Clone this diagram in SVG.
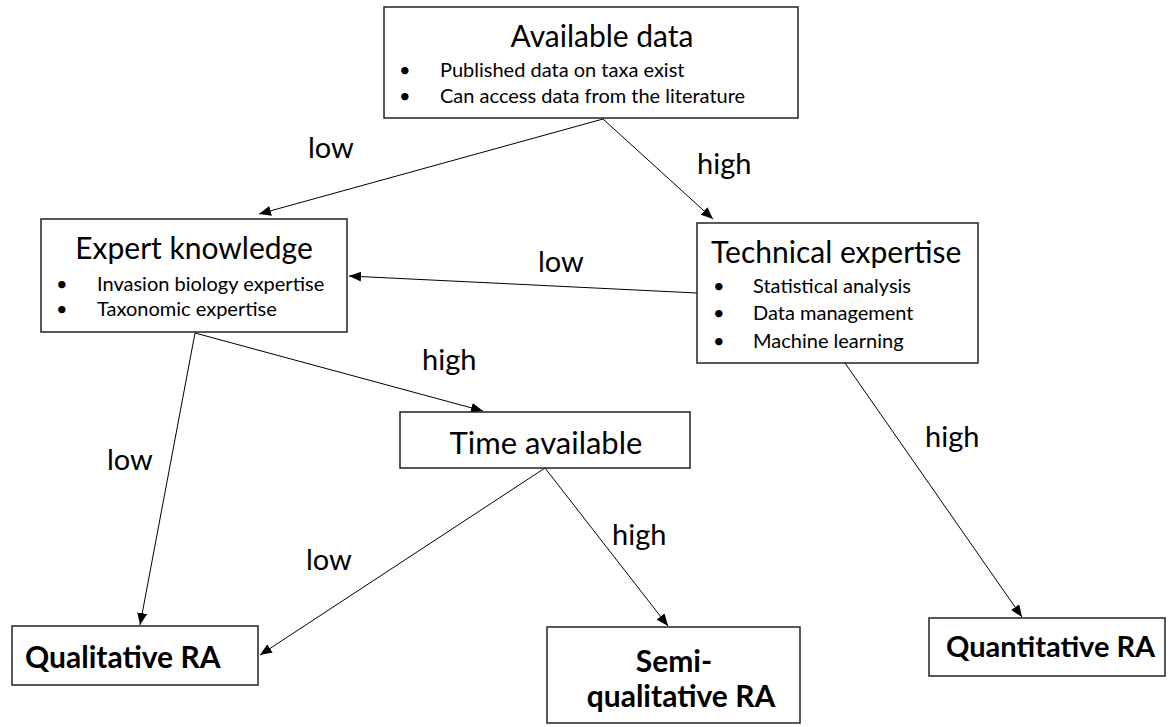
<svg xmlns="http://www.w3.org/2000/svg" width="1168" height="727" viewBox="0 0 1168 727">
  <style>
    .box { fill: #ffffff; stroke: #222222; stroke-width: 1.5; }
    .title { font-family: Lato, "Liberation Sans", sans-serif; font-size: 30px; fill: #000000; }
    .item { font-family: Lato, "Liberation Sans", sans-serif; font-size: 20px; fill: #000000; }
    .result { font-family: Lato, "Liberation Sans", sans-serif; font-size: 30px; font-weight: bold; fill: #000000; }
    .label { font-family: Lato, "Liberation Sans", sans-serif; font-size: 29px; fill: #000000; }
    .edge { fill: none; stroke: #000000; stroke-width: 1; marker-end: url(#arrow); }
  </style>
  <defs>
    <marker id="arrow" viewBox="0 0 12 10" refX="12" refY="5" markerWidth="12" markerHeight="10" markerUnits="userSpaceOnUse" orient="auto">
      <path d="M0,0 L12,5 L0,10 Z" fill="#000000"/>
    </marker>
  </defs>
  <rect width="1168" height="727" fill="#ffffff"/>

  <!-- connectors -->
  <g id="connectors">
    <line class="edge" x1="603" y1="119" x2="259" y2="214"/>
    <line class="edge" x1="603" y1="119" x2="713" y2="219"/>
    <line class="edge" x1="697" y1="293" x2="349" y2="276"/>
    <line class="edge" x1="195" y1="333" x2="483" y2="411"/>
    <line class="edge" x1="195" y1="333" x2="140" y2="625"/>
    <line class="edge" x1="545" y1="468" x2="260" y2="655"/>
    <line class="edge" x1="545" y1="468" x2="668" y2="626"/>
    <line class="edge" x1="845" y1="363" x2="1022" y2="617"/>
    <text class="label" x="308" y="158">low</text>
    <text class="label" x="697" y="174">high</text>
    <text class="label" x="538" y="272">low</text>
    <text class="label" x="422" y="370">high</text>
    <text class="label" x="107" y="470">low</text>
    <text class="label" x="306" y="570">low</text>
    <text class="label" x="612" y="545">high</text>
    <text class="label" x="925" y="447">high</text>
  </g>

  <g id="available-data">
    <rect class="box" x="384" y="7" width="414" height="111"/>
    <text class="title" x="602" y="47" text-anchor="middle">Available data</text>
    <text class="item" x="399" y="77">•</text>
    <text class="item" x="440" y="77">Published data on taxa exist</text>
    <text class="item" x="399" y="103">•</text>
    <text class="item" x="440" y="103">Can access data from the literature</text>
  </g>

  <g id="expert-knowledge">
    <rect class="box" x="41" y="219" width="306" height="113"/>
    <text class="title" x="194" y="259" text-anchor="middle">Expert knowledge</text>
    <text class="item" x="56" y="291">•</text>
    <text class="item" x="97" y="291">Invasion biology expertise</text>
    <text class="item" x="56" y="316">•</text>
    <text class="item" x="97" y="316">Taxonomic expertise</text>
  </g>

  <g id="technical-expertise">
    <rect class="box" x="697" y="223" width="281" height="140"/>
    <text class="title" x="711" y="263">Technical expertise</text>
    <text class="item" x="713" y="293">•</text>
    <text class="item" x="753" y="293">Statistical analysis</text>
    <text class="item" x="713" y="320">•</text>
    <text class="item" x="753" y="320">Data management</text>
    <text class="item" x="713" y="348">•</text>
    <text class="item" x="753" y="348">Machine learning</text>
  </g>

  <g id="time-available">
    <rect class="box" x="400" y="412" width="290" height="56"/>
    <text class="title" x="546" y="454" text-anchor="middle" style="font-size:31px">Time available</text>
  </g>

  <g id="qualitative-ra">
    <rect class="box" x="12" y="626" width="246" height="59"/>
    <text class="result" x="25" y="668">Qualitative RA</text>
  </g>

  <g id="semi-qualitative-ra">
    <rect class="box" x="547" y="627" width="253" height="96"/>
    <text class="result" x="674" y="672" text-anchor="middle">Semi-</text>
    <text class="result" x="681" y="707" text-anchor="middle">qualitative RA</text>
  </g>

  <g id="quantitative-ra">
    <rect class="box" x="929" y="618" width="236" height="58"/>
    <text class="result" x="946" y="657" style="font-size:29px">Quantitative RA</text>
  </g>
</svg>
